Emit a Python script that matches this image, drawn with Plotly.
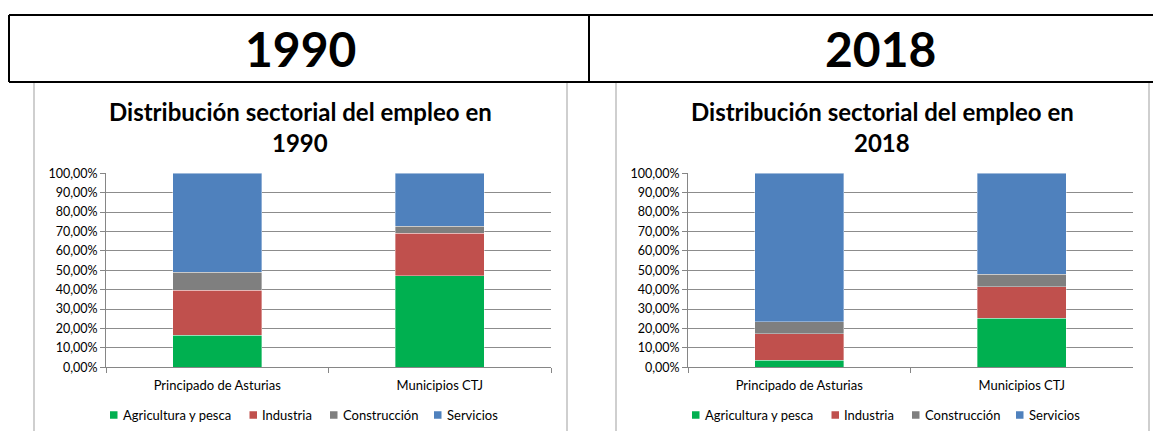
import plotly.graph_objects as go

W, H = 1161, 431
OFF = 8  # page body margin of the html page

categories = ["Principado de Asturias", "Municipios CTJ"]
sectors = ["Agricultura y pesca", "Industria", "Construcción", "Servicios"]
colors = ["#00B050", "#C0504D", "#7F7F7F", "#4F81BD"]

# shares (%)
agri_1990 = [16.5, 47.2]
ind_1990 = [23.3, 21.9]
constr_1990 = [9.2, 3.6]
serv_1990 = [51.0, 27.3]

agri_2018 = [3.6, 25.3]
ind_2018 = [13.6, 16.2]
constr_2018 = [6.3, 6.4]
serv_2018 = [76.5, 52.1]

ytick_vals = [0, 0.1, 0.2, 0.3, 0.4, 0.5, 0.6, 0.7, 0.8, 0.9, 1.0]
header_labels = ["1990", "2018"]
title_line1 = "Distribución sectorial del empleo en"
title_years = ["1990", "2018"]

FONT = "Lato"
TXT = "#000000"


def px(x):
    return (x - OFF) / W


def py(y):
    return 1 - (y - OFF) / H


fig = go.Figure()

series = [[agri_1990, ind_1990, constr_1990, serv_1990],
          [agri_2018, ind_2018, constr_2018, serv_2018]]
axes = [("x", "y"), ("x2", "y2")]

for k in range(2):
    for i, (name, vals) in enumerate(zip(sectors, series[k])):
        fig.add_trace(go.Bar(
            x=categories, y=[v / 100 for v in vals], name=name,
            marker=dict(color=colors[i], line=dict(color="rgba(255,255,255,0.45)", width=0.8)),
            width=0.4, xaxis=axes[k][0], yaxis=axes[k][1],
            showlegend=False, hoverinfo="skip"))

plot_top, plot_bot = 173.3, 367.3
dom_y = [py(plot_bot), py(plot_top)]
DX = 582  # horizontal offset between the two charts

xaxis_common = dict(
    type="category", showgrid=False, showline=True, linecolor="#868686", linewidth=1,
    ticks="outside", tickson="boundaries", ticklen=5, tickcolor="#868686",
    ticklabelstandoff=6,
    tickfont=dict(family=FONT, size=13, color=TXT), fixedrange=True, zeroline=False,
    automargin=False)
yaxis_common = dict(
    range=[0, 1], tickvals=ytick_vals, tickformat=".2%", showgrid=True,
    gridcolor="#8C8C8C", gridwidth=1, showline=True, linecolor="#868686", linewidth=1,
    ticks="outside", ticklen=5, tickcolor="#868686", zeroline=False,
    tickfont=dict(family=FONT, size=12.5, color=TXT), fixedrange=True, automargin=False)

fig.update_layout(
    width=W, height=H, margin=dict(l=0, r=0, t=0, b=0, pad=0, autoexpand=False),
    paper_bgcolor="white", plot_bgcolor="white",
    barmode="stack", bargap=0.6, separators=",.",
    font=dict(family=FONT, color=TXT),
    xaxis=dict(domain=[px(106), px(551)], anchor="y", **xaxis_common),
    yaxis=dict(domain=dom_y, anchor="x", **yaxis_common),
    xaxis2=dict(domain=[px(106 + DX), px(551 + DX)], anchor="y2", **xaxis_common),
    yaxis2=dict(domain=dom_y, anchor="x2", **yaxis_common),
    showlegend=False,
)

# header table
line_black = dict(color="black", width=2)
fig.add_shape(type="line", xref="paper", yref="paper", x0=px(9), x1=1.05, y0=py(15), y1=py(15), line=line_black)
fig.add_shape(type="line", xref="paper", yref="paper", x0=px(9), x1=1.05, y0=py(82), y1=py(82), line=line_black)
fig.add_shape(type="line", xref="paper", yref="paper", x0=px(9), x1=px(9), y0=py(15), y1=py(82), line=line_black)
fig.add_shape(type="line", xref="paper", yref="paper", x0=px(589), x1=px(589), y0=py(15), y1=py(82), line=line_black)

# chart frames
line_gray = dict(color="#BFBFBF", width=1.5)
for xv in [34, 567, 34 + DX, 567 + DX]:
    fig.add_shape(type="line", xref="paper", yref="paper", x0=px(xv), x1=px(xv),
                  y0=py(440), y1=py(83), line=line_gray)

for label, xc in zip(header_labels, [300, 880]):
    fig.add_annotation(text="<b>%s</b>" % label, xref="paper", yref="paper",
                       x=px(xc), y=py(48), xanchor="center", yanchor="middle",
                       showarrow=False, font=dict(family=FONT, size=48, color="black"))

for k, yr in enumerate(title_years):
    xc = 300 + k * DX
    fig.add_annotation(text="<b>%s</b>" % title_line1, xref="paper", yref="paper",
                       x=px(xc), y=py(111.5), xanchor="center", yanchor="middle",
                       showarrow=False, font=dict(family=FONT, size=24, color="black"))
    fig.add_annotation(text="<b>%s</b>" % yr, xref="paper", yref="paper",
                       x=px(xc), y=py(142.5), xanchor="center", yanchor="middle",
                       showarrow=False, font=dict(family=FONT, size=24, color="black"))

# legends (square key + label), one per chart
key_left = [110, 249.5, 330, 434]
LEG_Y = 415
for k in range(2):
    for i, name in enumerate(sectors):
        x0 = key_left[i] + k * DX
        fig.add_shape(type="rect", xref="paper", yref="paper",
                      x0=px(x0), x1=px(x0 + 7.5), y0=py(LEG_Y + 3.75), y1=py(LEG_Y - 3.75),
                      line=dict(width=0), fillcolor=colors[i])
        fig.add_annotation(text=name, xref="paper", yref="paper",
                           x=px(x0 + 10.5), y=py(LEG_Y), xanchor="left", yanchor="middle",
                           showarrow=False, font=dict(family=FONT, size=13, color=TXT))

fig.write_html("out.html")
